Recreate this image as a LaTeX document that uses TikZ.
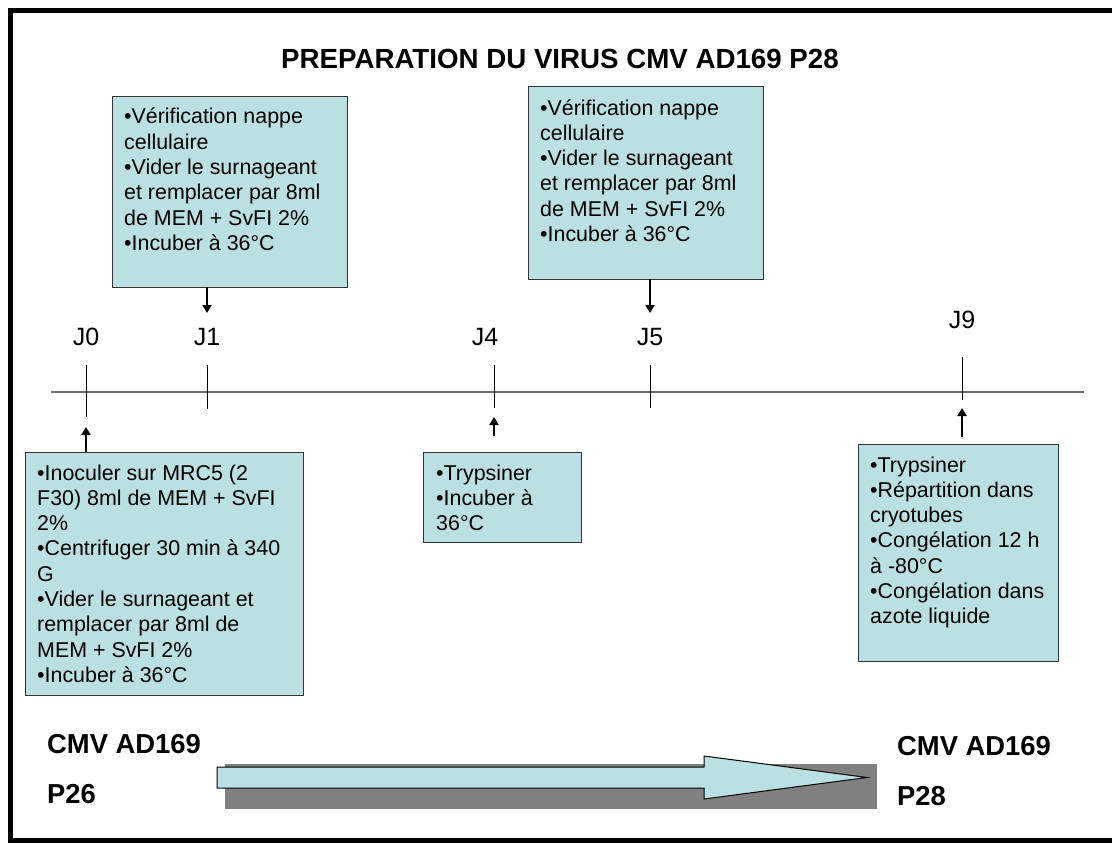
\documentclass[tikz,border=0pt]{standalone}
\usepackage{fontspec}
\setmainfont{Liberation Sans}
\usetikzlibrary{arrows.meta}
\definecolor{boxblue}{RGB}{187,224,227}
\definecolor{shadowgray}{RGB}{128,128,128}
\definecolor{axisgray}{RGB}{110,110,110}
\newcommand{\boxlines}[1]{\begin{tabular}[t]{@{}l@{}}#1\end{tabular}}
\begin{document}
\begin{tikzpicture}[x=1pt,y=-1pt,
  stepbox/.style={draw=black!80, line width=1pt, fill=boxblue, inner sep=0pt, outer sep=0pt, anchor=north west},
  boxtext/.style={anchor=base west, inner sep=0pt, font=\fontsize{21.4}{25.3}\selectfont},
  daylabel/.style={anchor=base, inner sep=0pt, font=\fontsize{25}{30}\selectfont},
  bigtext/.style={anchor=base west, inner sep=0pt, font=\fontsize{27.4}{32}\selectfont\bfseries},
  daytick/.style={draw=black, line width=0.9pt},
  axisline/.style={draw=axisgray, line width=1.2pt},
  conn/.style={draw=black, line width=2pt, -{Triangle[width=9pt,length=8pt]}},
]
\useasboundingbox (0,0) rectangle (1112,843);
\clip (0,0) rectangle (1112,843);
\fill[white] (0,0) rectangle (1112,843);

% frame
\draw[line width=5pt] (10,10.5) rectangle (1135,840.5);

% title
\node[anchor=base, inner sep=0pt, font=\fontsize{27.7}{32}\selectfont\bfseries] (title) at (560,69) {PREPARATION DU VIRUS CMV AD169 P28};

% boxes
\node[stepbox, minimum width=235pt, minimum height=190pt] (b1) at (112,97) {};
\node[boxtext] (t1) at (124,124) {\boxlines{•Vérification nappe\\ cellulaire\\ •Vider le surnageant\\ et remplacer par 8ml\\ de MEM + SvFI 2\%\\ •Incuber à 36°C}};

\node[stepbox, minimum width=235pt, minimum height=192pt] (b5) at (528,87) {};
\node[boxtext] (t5) at (540,115) {\boxlines{•Vérification nappe\\ cellulaire\\ •Vider le surnageant\\ et remplacer par 8ml\\ de MEM + SvFI 2\%\\ •Incuber à 36°C}};

\node[stepbox, minimum width=278pt, minimum height=243pt] (b0) at (25,452) {};
\node[boxtext] (t0) at (37,480) {\boxlines{•Inoculer sur MRC5 (2\\ F30) 8ml de MEM + SvFI\\ 2\%\\ •Centrifuger 30 min à 340\\ G\\ •Vider le surnageant et\\ remplacer par 8ml de\\ MEM + SvFI 2\%\\ •Incuber à 36°C}};

\node[stepbox, minimum width=158pt, minimum height=90pt] (b4) at (423,452) {};
\node[boxtext] (t4) at (436,480) {\boxlines{•Trypsiner\\ •Incuber à\\ 36°C}};

\node[stepbox, minimum width=200pt, minimum height=217pt] (b9) at (858,444) {};
\node[boxtext] (t9) at (870,472) {\boxlines{•Trypsiner\\ •Répartition dans\\ cryotubes\\ •Congélation 12 h\\ à -80°C\\ •Congélation dans\\ azote liquide}};

% axis
\coordinate (axl) at (51,392);
\coordinate (axr) at (1084,392);
\draw[axisline] (axl) -- (axr);

% day labels
\node[daylabel] (j0) at (86,345) {J0};
\node[daylabel] (j1) at (207,345) {J1};
\node[daylabel] (j4) at (485,345) {J4};
\node[daylabel] (j5) at (650,345) {J5};
\node[daylabel] (j9) at (962,328) {J9};

% ticks
\coordinate (k0a) at (86,365); \coordinate (k0b) at (86,417);
\coordinate (k1a) at (207,365); \coordinate (k1b) at (207,409);
\coordinate (k4a) at (494,365); \coordinate (k4b) at (494,408);
\coordinate (k5a) at (650,365); \coordinate (k5b) at (650,408);
\coordinate (k9a) at (962,357); \coordinate (k9b) at (962,400);
\draw[daytick] (k0a) -- (k0b);
\draw[daytick] (k1a) -- (k1b);
\draw[daytick] (k4a) -- (k4b);
\draw[daytick] (k5a) -- (k5b);
\draw[daytick] (k9a) -- (k9b);

% arrows
\coordinate (a1) at (207,313);
\draw[conn] (b1.south -| a1) -- (a1);
\coordinate (a5) at (650,313);
\draw[conn] (b5.south -| a5) -- (a5);
\coordinate (a0) at (86,427);
\draw[conn] (b0.north -| a0) -- (a0);
\coordinate (a4s) at (494,436);
\coordinate (a4) at (494,417);
\draw[conn] (a4s) -- (a4);
\coordinate (a9s) at (962,437);
\coordinate (a9) at (962,408);
\draw[conn] (a9s) -- (a9);

% passage labels
\node[bigtext] (cmvl) at (47,753) {CMV AD169};
\node[bigtext] (p26) at (47,803) {P26};
\node[bigtext] (cmvr) at (897,755) {CMV AD169};
\node[bigtext] (p28) at (897,805) {P28};

% big arrow with shadow
\fill[shadowgray] (225,764) rectangle (877,809);
\draw[fill=boxblue, line width=1pt, line join=miter] (217,767) -- (704,767) -- (704,756) -- (867,777.5) -- (704,799) -- (704,788) -- (217,788) -- cycle;
\end{tikzpicture}
\end{document}
